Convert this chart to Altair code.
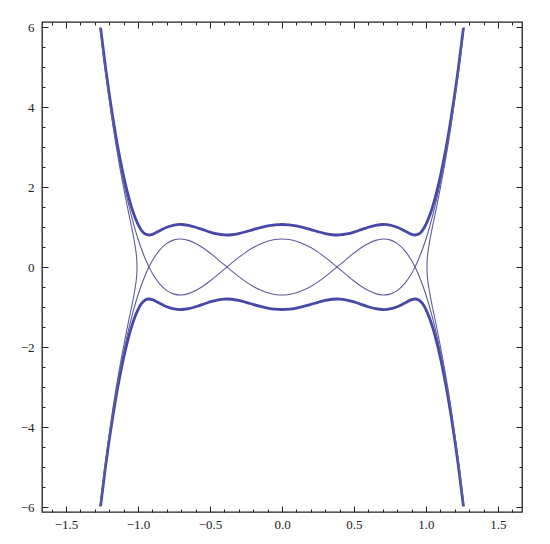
import altair as alt
import pandas as pd

# x positions (read along the horizontal axis)
X = [-1.26, -1.225, -1.2, -1.175, -1.15, -1.125, -1.1, -1.075, -1.05, -1.025,
     -1.0, -0.975, -0.95, -0.925, -0.9, -0.85, -0.8, -0.75, -0.7, -0.65,
     -0.6, -0.55, -0.5, -0.45, -0.4, -0.35, -0.3, -0.25, -0.2, -0.15,
     -0.1, -0.05, 0.0, 0.05, 0.1, 0.15, 0.2, 0.25, 0.3, 0.35,
     0.4, 0.45, 0.5, 0.55, 0.6, 0.65, 0.7, 0.75, 0.8, 0.85,
     0.9, 0.925, 0.95, 0.975, 1.0, 1.025, 1.05, 1.075, 1.1, 1.125,
     1.15, 1.175, 1.2, 1.225, 1.26]

# upper thick wavy band (the lower band is its mirror image)
OUTER = [5.978, 4.972, 4.323, 3.730, 3.190, 2.704, 2.269, 1.885, 1.554, 1.279,
         1.063, 0.912, 0.826, 0.800, 0.816, 0.905, 0.994, 1.049, 1.063, 1.041,
         0.994, 0.934, 0.873, 0.826, 0.802, 0.806, 0.836, 0.882, 0.936, 0.986,
         1.027, 1.054, 1.063, 1.054, 1.027, 0.986, 0.936, 0.882, 0.836, 0.806,
         0.802, 0.826, 0.873, 0.934, 0.994, 1.041, 1.063, 1.049, 0.994, 0.905,
         0.816, 0.800, 0.826, 0.912, 1.063, 1.279, 1.554, 1.885, 2.269, 2.704,
         3.190, 3.730, 4.323, 4.972, 5.978]

# thin crossing curve (its partner is the mirror image)
INNER = [5.924, 4.907, 4.248, 3.643, 3.088, 2.583, 2.123, 1.707, 1.333, 0.998,
         0.700, 0.437, 0.207, 0.008, -0.162, -0.423, -0.590, -0.678, -0.699, -0.666,
         -0.590, -0.482, -0.350, -0.204, -0.053, 0.098, 0.241, 0.372, 0.485, 0.577,
         0.645, 0.686, 0.700, 0.686, 0.645, 0.577, 0.485, 0.372, 0.241, 0.098,
         -0.053, -0.204, -0.350, -0.482, -0.590, -0.666, -0.699, -0.678, -0.590, -0.423,
         -0.162, 0.008, 0.207, 0.437, 0.700, 0.998, 1.333, 1.707, 2.123, 2.583,
         3.088, 3.643, 4.248, 4.907, 5.924]

# thin side curve near x = +/-1 (x read as a function of y)
Y_SIDE = [-6.0, -5.5, -5.0, -4.5, -4.0, -3.5, -3.0, -2.5, -2.0, -1.5,
          -1.0, -0.75, -0.5, -0.25, 0.0, 0.25, 0.5, 0.75, 1.0, 1.5,
          2.0, 2.5, 3.0, 3.5, 4.0, 4.5, 5.0, 5.5, 6.0]
X_SIDE = [1.264, 1.248, 1.231, 1.212, 1.193, 1.173, 1.151, 1.127, 1.101, 1.074,
          1.045, 1.031, 1.019, 1.010, 1.007, 1.010, 1.019, 1.031, 1.045, 1.074,
          1.101, 1.127, 1.151, 1.173, 1.193, 1.212, 1.231, 1.248, 1.264]

X_TICKS = [-1.6, -1.5, -1.4, -1.3, -1.2, -1.1, -1.0, -0.9, -0.8, -0.7, -0.6,
           -0.5, -0.4, -0.3, -0.2, -0.1, 0.0, 0.1, 0.2, 0.3, 0.4, 0.5, 0.6,
           0.7, 0.8, 0.9, 1.0, 1.1, 1.2, 1.3, 1.4, 1.5, 1.6]
Y_TICKS = [-6.0, -5.5, -5.0, -4.5, -4.0, -3.5, -3.0, -2.5, -2.0, -1.5, -1.0,
           -0.5, 0.0, 0.5, 1.0, 1.5, 2.0, 2.5, 3.0, 3.5, 4.0, 4.5, 5.0, 5.5, 6.0]

X_DOMAIN = [-1.667, 1.667]
Y_DOMAIN = [-6.125, 6.125]

rows = []
def add(name, kind, xs, ys):
    for i, (a, b) in enumerate(zip(xs, ys)):
        rows.append({"curve": name, "kind": kind, "x": a, "y": b, "i": i})

add("outer_up", "thick", X, OUTER)
add("outer_dn", "thick", X, [-v for v in OUTER])
add("inner_a", "thin", X, INNER)
add("inner_b", "thin", X, [-v for v in INNER])
add("side_r", "thin", X_SIDE, Y_SIDE)
add("side_l", "thin", [-v for v in X_SIDE], Y_SIDE)
df = pd.DataFrame(rows)

FONT = "Liberation Serif"
x_major = "abs(datum.value*2 - round(datum.value*2)) < 0.001"
y_major = "abs(datum.value/2 - round(datum.value/2)) < 0.001"

def xaxis(orient, labels):
    kw = dict(orient=orient, values=X_TICKS, title=None, domain=False, grid=False,
              tickColor="#222", tickWidth=1,
              tickSize={"condition": {"test": x_major, "value": -6}, "value": -3})
    if labels:
        kw.update(labelExpr=f"{x_major} ? format(datum.value, '.1f') : ''",
                  labelFont=FONT, labelFontSize=13, labelColor="#222",
                  labelPadding=12, labelFlush=False, labelOverlap=False)
    else:
        kw.update(labels=False)
    return alt.Axis(**kw)

def yaxis(orient, labels):
    kw = dict(orient=orient, values=Y_TICKS, title=None, domain=False, grid=False,
              tickColor="#222", tickWidth=1,
              tickSize={"condition": {"test": y_major, "value": -6}, "value": -3})
    if labels:
        kw.update(labelExpr=f"{y_major} ? format(datum.value, 'd') : ''",
                  labelFont=FONT, labelFontSize=13, labelColor="#222",
                  labelPadding=14, labelFlush=False, labelOverlap=False)
    else:
        kw.update(labels=False)
    return alt.Axis(**kw)

curves = alt.Chart(df).mark_line(interpolate="catmull-rom").encode(
    x=alt.X("x:Q", scale=alt.Scale(domain=X_DOMAIN, nice=False, zero=False), axis=xaxis("bottom", True)),
    y=alt.Y("y:Q", scale=alt.Scale(domain=Y_DOMAIN, nice=False, zero=False), axis=yaxis("left", True)),
    detail="curve:N",
    order="i:Q",
    color=alt.Color("kind:N", scale=alt.Scale(domain=["thick", "thin"], range=["#4747aa", "#5c5c9c"]), legend=None),
    strokeWidth=alt.StrokeWidth("kind:N", scale=alt.Scale(domain=["thick", "thin"], range=[2.8, 1.1]), legend=None),
)

frame = alt.Chart(pd.DataFrame({"x": [0.0], "y": [0.0]})).mark_point(opacity=0).encode(
    x=alt.X("x:Q", scale=alt.Scale(domain=X_DOMAIN, nice=False, zero=False), axis=xaxis("top", False)),
    y=alt.Y("y:Q", scale=alt.Scale(domain=Y_DOMAIN, nice=False, zero=False), axis=yaxis("right", False)),
)

chart = alt.layer(curves, frame).resolve_scale(x="independent", y="independent").properties(
    width=480, height=490,
    autosize=alt.AutoSizeParams(type="none"),
    padding={"left": 34, "top": 14, "right": 18, "bottom": 20},
    background="white",
).configure_view(stroke="#222", strokeWidth=1.3)

chart.save("out.html", embed_options={"renderer": "svg", "actions": False})
